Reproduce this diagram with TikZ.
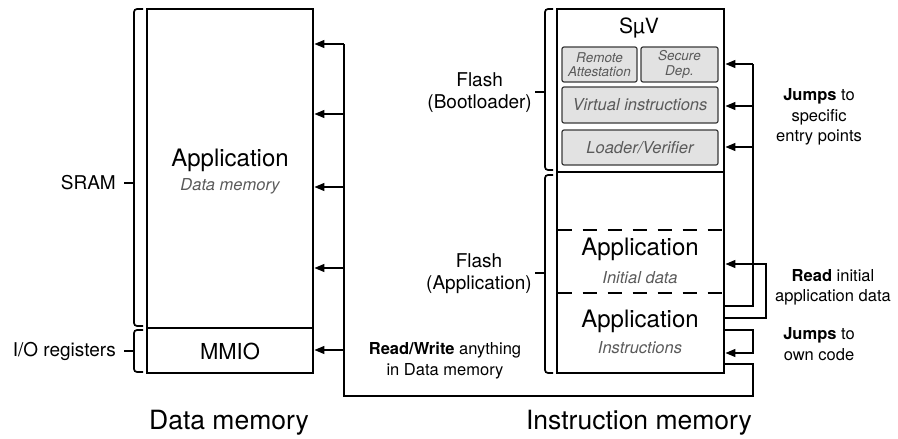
\documentclass[tikz,border=0pt]{standalone}
\usepackage{fontspec}
\setmainfont{TeX Gyre Heros}
\usetikzlibrary{arrows.meta}

\definecolor{subfill}{HTML}{E2E2E2}
\definecolor{subline}{HTML}{3A3A3A}
\definecolor{softtext}{HTML}{5A5A5A}

\tikzset{
  memblock/.style={draw=black, line width=2.9pt, inner sep=0pt, minimum width=#1},
  memblock/.default=166pt,
  subbox/.style={draw=subline, fill=subfill, line width=1.2pt, rounded corners=2pt,
                 inner sep=0pt, align=center, text=softtext,
                 font=\fontsize{16.5}{19}\selectfont\itshape},
  wire/.style={line width=1.3pt, line join=miter},
  arr/.style={wire, -{Triangle[length=10pt,width=8pt]}},
  bracket/.style={line width=1.7pt, rounded corners=3pt},
  tick/.style={line width=1.7pt},
  sidelabel/.style={anchor=east, inner sep=0pt, align=center,
                    font=\fontsize{19}{22}\selectfont},
  bigtext/.style={inner sep=0pt, font=\fontsize{24}{27}\selectfont},
  softnote/.style={inner sep=0pt, text=softtext, font=\fontsize{16.5}{19}\selectfont\itshape},
  note/.style={inner sep=0pt, align=center, font=\fontsize{16.5}{20.5}\selectfont},
  title/.style={inner sep=0pt, font=\fontsize{26.5}{30}\selectfont},
  dividerline/.style={line width=2.9pt, dash pattern=on 14pt off 11pt, dash phase=-2pt}
}

\begin{document}
\begin{tikzpicture}[x=1pt, y=-1pt]
\useasboundingbox (0,0) rectangle (898,439);

% ---------------- Data memory ----------------
\node[memblock, minimum height=319pt] (sram) at (230,168.5) {};
\node[memblock, minimum height=45pt] (mmio) at (230,350.5) {};

\node[bigtext] (apptitle) at (230,160) {Application};
\node[softnote] (appsub) at (230,186) {Data memory};
\node[bigtext, font=\fontsize{22}{26}\selectfont] (mmiotext) at (230,351) {MMIO};

% brackets on the left
\draw[bracket] (143,9) -- (134,9) -- (134,326) -- (143,326);
\coordinate (sramtick) at (134,183);
\draw[tick] (sramtick) -- ++(-10,0);
\node[sidelabel] (sramlbl) at (116,183) {SRAM};

\draw[bracket] (143,330) -- (134,330) -- (134,372) -- (143,372);
\coordinate (iotick) at (134,351);
\draw[tick] (iotick) -- ++(-10,0);
\node[sidelabel] (iolbl) at (116,351) {I/O registers};

\node[title] (dmtitle) at (229,423) {Data memory};

% ---------------- Instruction memory ----------------
\node[memblock=167pt, minimum height=163pt] (boot) at (640.5,90.5) {};
\node[memblock=167pt, minimum height=201pt] (app) at (640.5,272.5) {};

\node[inner sep=0pt, font=\fontsize{21}{24}\selectfont] (suv) at (639,28) {S\char"00B5 V};

\node[subbox, minimum width=75pt, minimum height=35pt,
      font=\fontsize{13.5}{14.5}\selectfont\itshape] (remote) at (599.5,64.5) {Remote\\Attestation};
\node[subbox, minimum width=77pt, minimum height=35pt,
      font=\fontsize{13.5}{14.5}\selectfont\itshape] (secure) at (679.5,64.5) {Secure\\Dep.};
\node[subbox, minimum width=156pt, minimum height=36pt] (virt) at (640,105) {Virtual instructions};
\node[subbox, minimum width=156pt, minimum height=35pt] (loader) at (640,147.5) {Loader/Verifier};

% dashed separators inside the application flash
\draw[dividerline] (app.west |- 0,230) -- (app.east |- 0,230);
\draw[dividerline] (app.west |- 0,293) -- (app.east |- 0,293);

\node[bigtext] (initapp) at (640,249) {Application};
\node[softnote] (initsub) at (640,278) {Initial data};
\node[bigtext] (insapp) at (640,321) {Application};
\node[softnote] (inssub) at (640,348) {Instructions};

% brackets on the left
\draw[bracket] (553,9) -- (545,9) -- (545,170) -- (553,170);
\coordinate (boottick) at (545,92);
\draw[tick] (boottick) -- ++(-10,0);
\node[sidelabel] (bootlbl) at (532,93) {Flash\\(Bootloader)};

\draw[bracket] (553,175) -- (545,175) -- (545,373) -- (553,373);
\coordinate (apptick) at (545,273);
\draw[tick] (apptick) -- ++(-10,0);
\node[sidelabel] (applbl) at (532,274) {Flash\\(Application)};

\node[title] (imtitle) at (639,423) {Instruction memory};

% ---------------- Connectors ----------------
% jumps into the bootloader entry points
\coordinate (je1) at (753,64);
\coordinate (je2) at (753,106);
\coordinate (je3) at (753,147);
\coordinate (jes) at (753,306);
\draw[wire] (jes -| app.east) -- (jes) -- (je1);
\foreach \c in {je1,je2,je3} \draw[arr] (\c) -- (\c -| boot.east);

% reading the initial application data
\coordinate (rds) at (766,318);
\coordinate (rdt) at (766,264);
\draw[arr] (rds -| app.east) -- (rds) -- (rdt) -- (rdt -| app.east);

% jumps inside the application code
\coordinate (ocs) at (753,330);
\coordinate (oct) at (753,353);
\draw[arr] (ocs -| app.east) -- (ocs) -- (oct) -- (oct -| app.east);

% read/write bus into the data memory
\coordinate (bs) at (753,364);
\coordinate (bc) at (753,396);
\coordinate (b0) at (344,396);
\coordinate (b1) at (344,44);
\coordinate (b2) at (344,114);
\coordinate (b3) at (344,187);
\coordinate (b4) at (344,268);
\coordinate (b5) at (344,350);
\draw[wire] (bs -| app.east) -- (bs) -- (bc) -- (b0) -- (b1);
\foreach \c in {b1,b2,b3,b4} \draw[arr] (\c) -- (\c -| sram.east);
\draw[arr] (b5) -- (b5 -| mmio.east);

% connector notes
\node[note] (rwnote) at (445,360.5) {\textbf{Read/Write} anything\\in Data memory};
\node[note] (jenote) at (819,117) {\textbf{Jumps} to\\specific\\entry points};
\node[note] (rdnote) at (833,287.5) {\textbf{Read} initial\\application data};
\node[note] (ocnote) at (819,344) {\textbf{Jumps} to\\own code};
\end{tikzpicture}
\end{document}
